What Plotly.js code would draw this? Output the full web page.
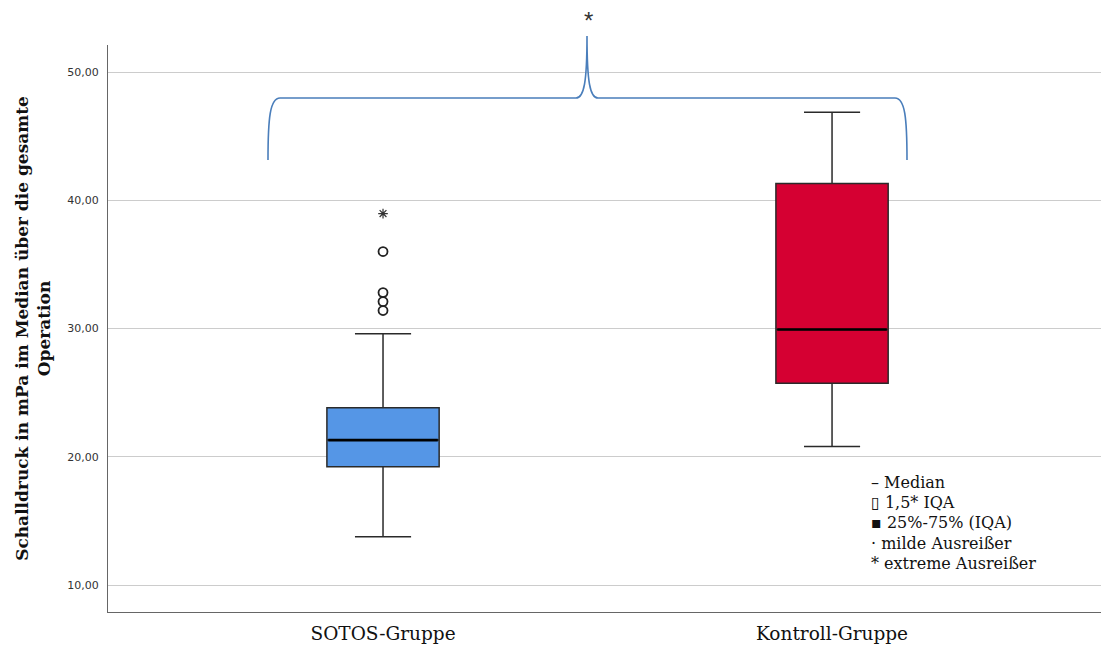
<!DOCTYPE html>
<html>
<head>
<meta charset="utf-8">
<script src="https://cdn.plot.ly/plotly-3.0.1.min.js"></script>
<style>html,body{margin:0;padding:0;background:#fff;}#chart{width:1101px;height:646px;}</style>
</head>
<body>
<div id="chart"></div>
<script>
// ---- data ----
const categories = ['SOTOS-Gruppe', 'Kontroll-Gruppe'];
const q1 = [19.22, 25.74];
const median = [21.30, 29.92];
const q3 = [23.82, 41.30];
const lowerFence = [13.76, 20.80];
const upperFence = [29.60, 46.86];
const mildOutliers = [[36.0, 32.8, 32.1, 31.4], []];
const extremeOutliers = [[38.96], []];
const fillColors = ['#5596E6', '#D50032'];
const yTickVals = [10, 20, 30, 40, 50];
const yTickText = ['10,00', '20,00', '30,00', '40,00', '50,00'];
const legendItems = [
  ['\u2013', 'Median'],
  ['\u25AF', '1,5* IQA'],
  ['\u25AA', '25%-75% (IQA)'],
  ['\u00B7', 'milde Ausreißer'],
  ['*', 'extreme Ausreißer']
];

// ---- layout helpers (plot area in pixels) ----
const L = 108, R = 1101, T = 45, B = 612;
const px = p => (p - L) / (R - L);
const py = p => (B - p) / (B - T);
const boxW = 0.25;
const serif = 'DejaVu Serif';

const traces = [];
categories.forEach((c, i) => {
  traces.push({
    type: 'box', x0: i, name: c,
    q1: [q1[i]], median: [median[i]], q3: [q3[i]],
    lowerfence: [lowerFence[i]], upperfence: [upperFence[i]],
    x: [i], width: boxW, whiskerwidth: 0.5, boxpoints: false,
    fillcolor: fillColors[i],
    line: {color: '#2a2a2a', width: 1.5},
    hoverinfo: 'skip', showlegend: false
  });
  traces.push({
    type: 'scatter', mode: 'lines',
    x: [i - boxW / 2 + 0.003, i + boxW / 2 - 0.003], y: [median[i], median[i]],
    line: {color: '#000', width: 2.6}, showlegend: false, hoverinfo: 'skip'
  });
  if (mildOutliers[i].length) traces.push({
    type: 'scatter', mode: 'markers',
    x: mildOutliers[i].map(() => i), y: mildOutliers[i],
    marker: {symbol: 'circle-open', size: 9, color: '#222', line: {width: 1.8, color: '#222'}},
    showlegend: false, hoverinfo: 'skip'
  });
  if (extremeOutliers[i].length) traces.push({
    type: 'scatter', mode: 'markers',
    x: extremeOutliers[i].map(() => i), y: extremeOutliers[i],
    marker: {symbol: 'asterisk-open', size: 8, color: '#333', line: {width: 1.2, color: '#333'}},
    showlegend: false, hoverinfo: 'skip'
  });
});

const bracePath = [
  'M', px(268), py(160),
  'C', px(268), py(118), px(270), py(98), px(280), py(98),
  'L', px(576), py(98),
  'C', px(584), py(98), px(587), py(82), px(587), py(36),
  'C', px(587), py(82), px(590), py(98), px(598), py(98),
  'L', px(895), py(98),
  'C', px(905), py(98), px(907), py(118), px(907), py(160)
].join(' ');

const annotations = [{
  xref: 'paper', yref: 'paper', x: px(588), y: py(20), text: '*',
  showarrow: false, font: {family: 'Liberation Sans', size: 24, color: '#333'},
  xanchor: 'center', yanchor: 'middle'
}];
const legY = [482, 502, 522, 543, 563];
legendItems.forEach((it, k) => {
  annotations.push({
    xref: 'paper', yref: 'paper', x: px(869), y: py(legY[k]),
    text: it[0] + ' ' + it[1], showarrow: false, xanchor: 'left', yanchor: 'middle',
    font: {family: serif, size: 16, color: '#111'}
  });
});

const layout = {
  width: 1101, height: 646,
  margin: {l: L, r: 1101 - R, t: T, b: 646 - B},
  paper_bgcolor: '#fff', plot_bgcolor: '#fff',
  showlegend: false,
  xaxis: {
    range: [-0.6125, 1.599], zeroline: false, showgrid: false,
    tickvals: [0, 1], ticktext: categories, ticks: '',
    showline: true, linecolor: '#666', linewidth: 1,
    tickfont: {family: serif, size: 18.5, color: '#111'},
    ticklabelstandoff: 5
  },
  yaxis: {
    range: [7.895, 52.105], zeroline: false,
    tickvals: yTickVals, ticktext: yTickText, ticks: '',
    showgrid: true, gridcolor: '#cccccc', gridwidth: 1,
    showline: true, linecolor: '#666', linewidth: 1,
    tickfont: {family: 'DejaVu Sans', size: 11, color: '#333'},
    ticklabelstandoff: 6,
    title: {
      text: 'Schalldruck in mPa im Median über die gesamte<br>Operation',
      font: {family: serif, size: 17, color: '#111', weight: 'bold'},
      standoff: 12
    }
  },
  shapes: [{
    type: 'path', xref: 'paper', yref: 'paper', path: bracePath,
    line: {color: '#4a7ebb', width: 1.6}
  }],
  annotations: annotations
};

Plotly.newPlot('chart', traces, layout, {displayModeBar: false, staticPlot: true});
</script>
</body>
</html>
